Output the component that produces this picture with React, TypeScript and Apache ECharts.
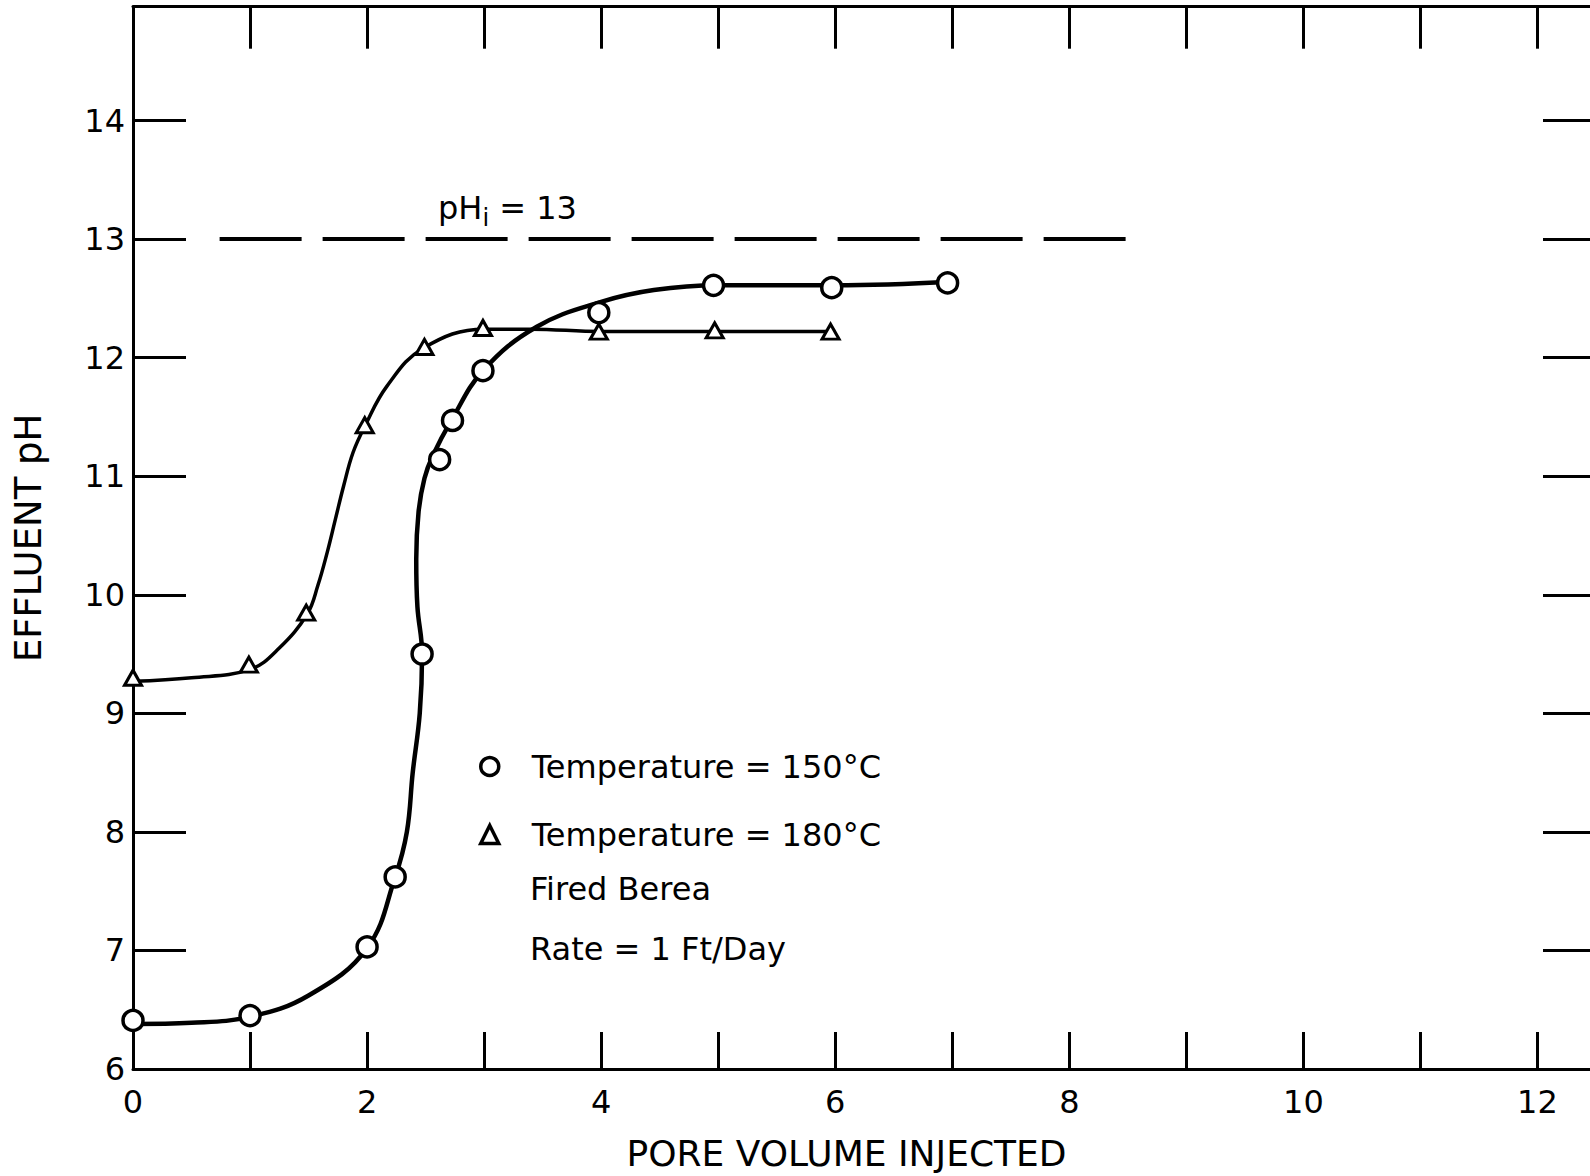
import React, { useEffect, useRef } from 'react';
import * as echarts from 'echarts';

// Measured points (pore volume injected, effluent pH)
const points150: number[][] = [
  [0, 6.41], [1, 6.45], [2, 7.03], [2.24, 7.62], [2.47, 9.5], [2.62, 11.14],
  [2.73, 11.47], [2.99, 11.89], [3.98, 12.38], [4.96, 12.61], [5.97, 12.59], [6.96, 12.63],
];
const points180: number[][] = [
  [0, 9.3], [0.99, 9.41], [1.48, 9.85], [1.98, 11.43], [2.49, 12.09],
  [2.99, 12.25], [3.98, 12.22], [4.97, 12.23], [5.96, 12.22],
];

// Hand-drawn fitted curves
const curve150: number[][] = [
  [0, 6.38], [0.5, 6.39], [1, 6.44], [1.5, 6.62], [2, 7.02], [2.24, 7.62],
  [2.34, 8.0], [2.39, 8.5], [2.45, 9.0], [2.47, 9.5], [2.43, 9.9], [2.42, 10.3],
  [2.44, 10.7], [2.49, 10.98], [2.56, 11.17], [2.72, 11.47], [2.99, 11.89],
  [3.45, 12.26], [4, 12.47], [4.45, 12.57], [5, 12.61], [6, 12.61], [7, 12.64],
];
const curve180: number[][] = [
  [0, 9.27], [0.5, 9.3], [1, 9.37], [1.25, 9.55], [1.49, 9.84], [1.58, 10.08],
  [1.66, 10.36], [1.73, 10.64], [1.8, 10.92], [1.88, 11.2], [1.98, 11.42],
  [2.17, 11.76], [2.48, 12.08], [3, 12.24], [3.4, 12.24], [4, 12.22],
  [5, 12.22], [6, 12.22],
];

// Injected pH reference line
const injectedPH: number[][] = [[0.74, 13], [8.52, 13]];

const xTickLabels = [0, 2, 4, 6, 8, 10, 12];
const yTickLabels = [6, 7, 8, 9, 10, 11, 12, 13, 14];

const seriesNames = ['Temperature = 150°C', 'Temperature = 180°C'];
const notes = ['Fired Berea', 'Rate = 1 Ft/Day'];

const FONT = "'DejaVu Sans', sans-serif";

export default function App() {
  const ref = useRef<HTMLDivElement>(null);

  useEffect(() => {
    if (!ref.current) return;
    const chart = echarts.init(ref.current, undefined, { renderer: 'svg' });

    const axisLine = { show: true, onZero: false, lineStyle: { color: '#000', width: 3 } };

    const option: any = {
      animation: false,
      backgroundColor: '#fff',
      // the chart box is 1600 wide; the right frame falls just beyond the visible 1590 px
      grid: { left: 133, right: 4, top: 6.7, bottom: 104.4, containLabel: false },
      xAxis: [
        {
          type: 'value', min: 0, max: 12.5, interval: 1, position: 'bottom',
          axisLine,
          axisTick: { show: true, inside: true, length: 37, lineStyle: { color: '#000', width: 3 } },
          splitLine: { show: false },
          axisLabel: {
            color: '#000', fontSize: 32, fontFamily: FONT, margin: 17,
            showMaxLabel: false,
            formatter: (v: number) => (xTickLabels.includes(v) ? String(v) : ''),
          },
          name: 'PORE VOLUME INJECTED',
          nameLocation: 'middle',
          nameGap: 66,
          nameTextStyle: { color: '#000', fontSize: 36, fontFamily: FONT, padding: [0, 36, 0, 0] },
        },
        {
          type: 'value', min: 0, max: 12.5, interval: 1, position: 'top',
          axisLine,
          axisTick: { show: true, inside: true, length: 42, lineStyle: { color: '#000', width: 3 } },
          splitLine: { show: false },
          axisLabel: { show: false },
        },
      ],
      yAxis: [
        {
          type: 'value', min: 6, max: 14.96, interval: 1, position: 'left',
          axisLine,
          axisTick: { show: true, inside: true, length: 53, lineStyle: { color: '#000', width: 3 } },
          splitLine: { show: false },
          axisLabel: {
            color: '#000', fontSize: 32, fontFamily: FONT, margin: 8,
            showMaxLabel: false,
            formatter: (v: number) => (yTickLabels.includes(v) ? String(v) : ''),
          },
          name: 'EFFLUENT pH',
          nameLocation: 'middle',
          nameGap: 86,
          nameTextStyle: { color: '#000', fontSize: 37, fontFamily: FONT },
        },
        {
          type: 'value', min: 6, max: 14.96, interval: 1, position: 'right',
          axisLine,
          axisTick: { show: true, inside: true, length: 53, lineStyle: { color: '#000', width: 3 } },
          splitLine: { show: false },
          axisLabel: { show: false },
        },
      ],
      legend: {
        orient: 'vertical',
        left: 479,
        top: 750.5,
        padding: 0,
        itemWidth: 18,
        itemHeight: 18,
        itemGap: 36,
        data: seriesNames,
        textStyle: { color: '#000', fontSize: 32, fontFamily: FONT, lineHeight: 30, padding: [0, 0, 0, 28] },
        itemStyle: { color: '#fff', borderColor: '#000', borderWidth: 3.5 },
        selectedMode: false,
      },
      series: [
        {
          type: 'line', name: 'curve150', data: curve150, smooth: 0.4, symbol: 'none',
          lineStyle: { color: '#000', width: 4.5 }, silent: true, z: 2,
        },
        {
          type: 'line', name: 'curve180', data: curve180, smooth: 0.4, symbol: 'none',
          lineStyle: { color: '#000', width: 3.5 }, silent: true, z: 2,
        },
        {
          type: 'line', name: 'pHi', data: injectedPH, symbol: 'none',
          lineStyle: { color: '#000', width: 4, type: [82, 21] }, silent: true, z: 2,
        },
        {
          type: 'scatter', name: seriesNames[0], data: points150, symbol: 'circle', symbolSize: 20,
          itemStyle: { color: '#fff', borderColor: '#000', borderWidth: 3.5, opacity: 1 }, z: 4,
        },
        {
          type: 'scatter', name: seriesNames[1], data: points180, symbol: 'triangle', symbolSize: [17, 15],
          itemStyle: { color: '#fff', borderColor: '#000', borderWidth: 3, opacity: 1 }, z: 4,
        },
      ],
      graphic: [
        {
          type: 'text', x: 438, y: 208, z: 10,
          style: {
            text: '{a|pH}{b|i}{a| = 13}',
            verticalAlign: 'middle', align: 'left', fill: '#000',
            rich: {
              a: { fontSize: 32, fontFamily: FONT, lineHeight: 44, fill: '#000' },
              b: { fontSize: 24, fontFamily: FONT, lineHeight: 24, verticalAlign: 'bottom', fill: '#000' },
            },
          },
        },
        {
          type: 'text', x: 530, y: 889, z: 10,
          style: { text: notes[0], fontSize: 32, fontFamily: FONT, fill: '#000', verticalAlign: 'middle', align: 'left' },
        },
        {
          type: 'text', x: 530, y: 949, z: 10,
          style: { text: notes[1], fontSize: 32, fontFamily: FONT, fill: '#000', verticalAlign: 'middle', align: 'left' },
        },
      ],
    };

    chart.setOption(option);
    return () => chart.dispose();
  }, []);

  return (
    <div
      style={{ position: 'absolute', left: 0, top: 0, width: 1590, height: 1176, overflow: 'hidden', background: '#fff' }}
    >
      <div ref={ref} style={{ width: 1600, height: 1176 }} />
    </div>
  );
}
